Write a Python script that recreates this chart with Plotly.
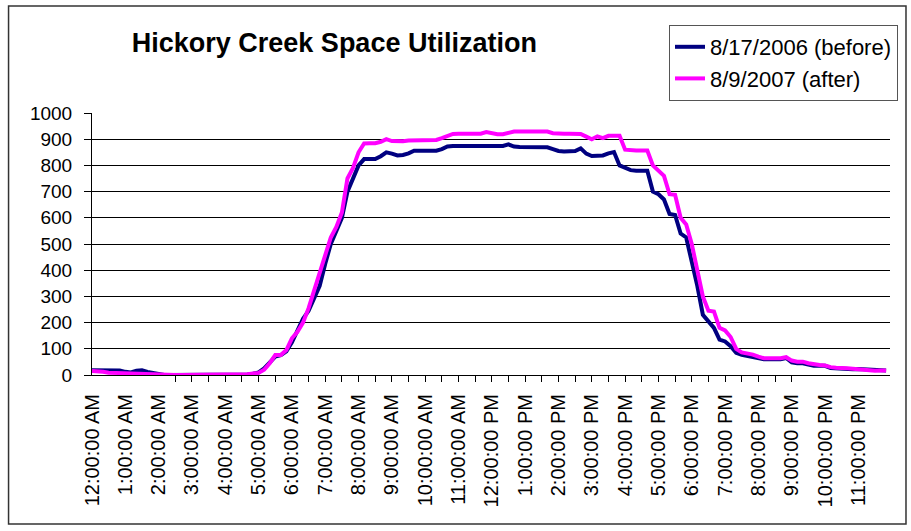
import plotly.graph_objects as go

# ---- data (10-minute samples) ----
SAMPLE_MINUTES = 10
BEFORE_NAME = "8/17/2006 (before)"
AFTER_NAME = "8/9/2007 (after)"

before_2006 = [
    18, 18, 18, 18, 18, 17,            # 0:00
    12, 10, 16, 18, 12, 8,             # 1:00
    4, 0, 0, 0, 0, 0,                  # 2:00
    0, 0, 0, 0, 0, 0,                  # 3:00
    0, 0, 0, 0, 2, 5,                  # 4:00
    10, 25, 45, 70, 76, 90,            # 5:00
    125, 170, 215, 245, 290, 340,      # 6:00
    425, 500, 550, 600, 700, 750,      # 7:00
    800, 824, 824, 824, 835, 850,      # 8:00
    845, 838, 840, 846, 856, 856,      # 9:00
    856, 856, 856, 862, 872, 874,      # 10:00
    874, 874, 874, 874, 874, 874,      # 11:00
    874, 874, 874, 880, 872, 870,      # 12:00
    870, 870, 870, 870, 869, 862,      # 13:00
    855, 853, 853, 855, 865, 845,      # 14:00
    836, 836, 838, 846, 851, 800,      # 15:00
    790, 782, 780, 780, 780, 700,      # 16:00
    690, 670, 615, 611, 540, 525,      # 17:00
    440, 340, 230, 205, 180, 135,      # 18:00
    128, 110, 85, 77, 73, 70,          # 19:00
    65, 60, 60, 60, 60, 65,            # 20:00
    48, 45, 45, 40, 35, 35,            # 21:00
    35, 27, 25, 23, 22, 22,            # 22:00
    23, 22, 20, 17, 17, 17,            # 23:00
]

after_2007 = [
    15, 15, 12, 9, 8, 7,               # 0:00
    6, 6, 6, 6, 5, 3,                  # 1:00
    1, 0, 0, 0, 0, 0,                  # 2:00
    0, 0, 0, 0, 0, 0,                  # 3:00
    0, 0, 0, 0, 3, 6,                  # 4:00
    8, 20, 45, 76, 76, 95,             # 5:00
    140, 165, 200, 255, 320, 390,      # 6:00
    450, 525, 565, 620, 750, 790,      # 7:00
    850, 884, 885, 885, 890, 900,      # 8:00
    893, 891, 892, 895, 896, 897,      # 9:00
    897, 897, 897, 904, 912, 920,      # 10:00
    921, 921, 921, 921, 921, 927,      # 11:00
    922, 919, 919, 925, 929, 929,      # 12:00
    929, 929, 929, 929, 929, 923,      # 13:00
    921, 921, 921, 921, 920, 910,      # 14:00
    900, 911, 904, 913, 913, 913,      # 15:00
    860, 857, 857, 857, 857, 800,      # 16:00
    780, 760, 690, 688, 600, 575,      # 17:00
    500, 400, 300, 245, 242, 180,      # 18:00
    170, 145, 100, 86, 82, 78,         # 19:00
    70, 64, 64, 64, 64, 68,            # 20:00
    55, 51, 51, 45, 40, 38,            # 21:00
    36, 30, 28, 28, 26, 24,            # 22:00
    22, 18, 15, 16, 17, 17,            # 23:00
]

# time of day in hours for each sample
time_hours = [i * SAMPLE_MINUTES / 60 for i in range(len(before_2006))]

# hour labels on the category axis
tick_hours = list(range(24))
tick_labels = [
    "12:00:00 AM", "1:00:00 AM", "2:00:00 AM", "3:00:00 AM", "4:00:00 AM",
    "5:00:00 AM", "6:00:00 AM", "7:00:00 AM", "8:00:00 AM", "9:00:00 AM",
    "10:00:00 AM", "11:00:00 AM", "12:00:00 PM", "1:00:00 PM", "2:00:00 PM",
    "3:00:00 PM", "4:00:00 PM", "5:00:00 PM", "6:00:00 PM", "7:00:00 PM",
    "8:00:00 PM", "9:00:00 PM", "10:00:00 PM", "11:00:00 PM",
]
# tick marks (half-hour) as they appear on the reference axis
tick_mark_hours = [h / 2 for h in range(5, 43)]

y_ticks = [0, 100, 200, 300, 400, 500, 600, 700, 800, 900, 1000]

# ---- figure ----
W, H = 911, 531
L, R, T, B = 91.5, 21, 113, 156
pw, ph = W - L - R, H - T - B
X_RANGE = [0, 23.95]

FONT = "Arial, 'Liberation Sans', sans-serif"

fig = go.Figure()
fig.add_trace(go.Scatter(
    x=time_hours, y=before_2006, mode="lines", name=BEFORE_NAME,
    line=dict(color="#000080", width=4),
))
fig.add_trace(go.Scatter(
    x=time_hours, y=after_2007, mode="lines", name=AFTER_NAME,
    line=dict(color="#FF00FF", width=4),
))
# invisible trace to carry the secondary axis with half-hour tick marks
fig.add_trace(go.Scatter(
    x=[X_RANGE[0]], y=[0], xaxis="x2", mode="markers",
    marker=dict(opacity=0), showlegend=False, hoverinfo="skip",
))


def px_x(p):
    return (p - L) / pw


def px_y(p):
    return (H - B - p) / ph


fig.update_layout(
    width=W, height=H,
    margin=dict(l=L, r=R, t=T, b=B, pad=0),
    paper_bgcolor="white", plot_bgcolor="white",
    font=dict(family=FONT, color="black", size=20),
    title=dict(
        text="<b>Hickory Creek Space Utilization</b>",
        font=dict(family=FONT, size=27, color="black"),
        x=px_x(334), xref="paper", xanchor="center",
        y=1 - 43 / H, yref="container", yanchor="middle",
    ),
    xaxis=dict(
        range=X_RANGE, tickmode="array", tickvals=tick_hours, ticktext=tick_labels,
        tickangle=-90, ticks="outside", ticklen=6, tickcolor="rgba(0,0,0,0)",
        ticklabelstandoff=4,
        showline=True, linecolor="black", linewidth=1, showgrid=False,
        zeroline=False, tickfont=dict(size=20, family=FONT),
    ),
    xaxis2=dict(
        range=X_RANGE, overlaying="x", anchor="y", side="bottom",
        tickmode="array", tickvals=tick_mark_hours, ticks="outside", ticklen=6,
        tickcolor="black", tickwidth=1, showticklabels=False, showgrid=False,
        zeroline=False, showline=False,
    ),
    yaxis=dict(
        range=[0, 1000], tickmode="array", tickvals=y_ticks,
        ticks="outside", ticklen=7, tickcolor="black", ticklabelstandoff=8,
        showline=True, linecolor="black", linewidth=1,
        showgrid=True, gridcolor="black", gridwidth=1, zeroline=False,
        tickfont=dict(size=19, family=FONT),
    ),
    legend=dict(
        x=px_x(898), y=px_y(25), xanchor="right", yanchor="top",
        bgcolor="white", bordercolor="#555555", borderwidth=1,
        font=dict(size=22, family=FONT), tracegroupgap=0,
    ),
    showlegend=True,
    shapes=[dict(
        type="rect", xref="paper", yref="paper",
        x0=px_x(8), x1=px_x(906), y0=px_y(524), y1=px_y(6),
        line=dict(color="#333333", width=1.5), fillcolor="rgba(0,0,0,0)",
        layer="below",
    )],
)

# remove the browser's default 8px body margin so the figure sits at (0, 0)
fig.write_html(
    "out.html",
    config={"displayModeBar": False},
    post_script="document.body.style.margin='0';document.body.style.overflow='hidden';",
)
